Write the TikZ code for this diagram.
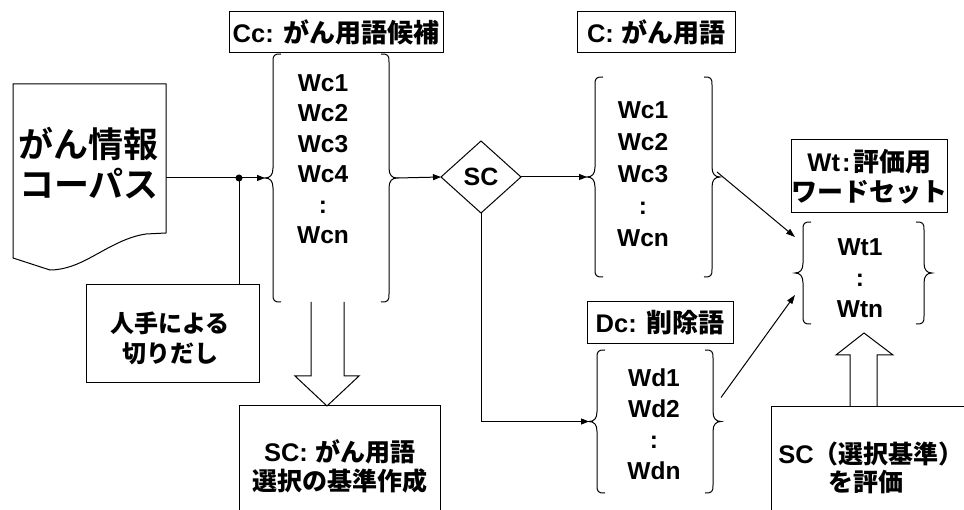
\documentclass[tikz,border=0pt]{standalone}
\usepackage{fontspec}
\setmainfont{Liberation Sans}
\newfontfamily\jpf{Noto Sans CJK JP Bold}
\usetikzlibrary{arrows.meta,shapes.geometric,calc}
\newcommand\jtext[2][26]{{\jpf\fontsize{#1}{31}\selectfont #2}}
\newcommand\bracepair[1]{%
\draw[line] ($(#1.north west)+(8,0)$) .. controls ($(#1.north west)+(1,0)$) and ($(#1.north west)+(0,1)$) .. ($(#1.north west)+(0,8)$)
 -- ($(#1.west)+(0,-10)$) .. controls ($(#1.west)+(0,-3)$) and ($(#1.west)+(-3,0)$) .. ($(#1.west)+(-8,0)$)
 .. controls ($(#1.west)+(-3,0)$) and ($(#1.west)+(0,3)$) .. ($(#1.west)+(0,10)$)
 -- ($(#1.south west)+(0,-8)$) .. controls ($(#1.south west)+(0,-1)$) and ($(#1.south west)+(1,0)$) .. ($(#1.south west)+(8,0)$);
\draw[line] ($(#1.north east)+(-8,0)$) .. controls ($(#1.north east)+(-1,0)$) and ($(#1.north east)+(0,1)$) .. ($(#1.north east)+(0,8)$)
 -- ($(#1.east)+(0,-10)$) .. controls ($(#1.east)+(0,-3)$) and ($(#1.east)+(3,0)$) .. ($(#1.east)+(8,0)$)
 .. controls ($(#1.east)+(3,0)$) and ($(#1.east)+(0,3)$) .. ($(#1.east)+(0,10)$)
 -- ($(#1.south east)+(0,-8)$) .. controls ($(#1.south east)+(0,-1)$) and ($(#1.south east)+(-1,0)$) .. ($(#1.south east)+(-8,0)$);
\coordinate (#1-l) at ($(#1.west)+(-8,0)$);
\coordinate (#1-r) at ($(#1.east)+(8,0)$);
}
\tikzset{
 line/.style={line width=1pt, draw=black},
 arr/.style={line, -{Triangle[length=8pt,width=6pt]}},
 lbl/.style={draw=black, line width=1pt, rectangle, inner sep=0pt, outer sep=0pt, align=center,
   font=\bfseries\fontsize{25.5}{30}\selectfont},
 holder/.style={rectangle, inner sep=0pt, outer sep=0pt, draw=none},
 words/.style={align=center, inner sep=0pt, outer sep=0pt, font=\bfseries\fontsize{24.5}{#1}\selectfont},
 words/.default=31
}
\begin{document}
\begin{tikzpicture}[x=1pt,y=-1pt]
\useasboundingbox (0,0) rectangle (964,510);
\clip (0,0) rectangle (964,510);
\fill[white] (0,0) rectangle (964,510);

% corpus document
\node[holder, minimum width=153, minimum height=149] (corpus) at (89.5,158.5) {};
\draw[line] (corpus.south east) -- (corpus.north east) -- (corpus.north west) -- ($(corpus.south west)+(0,25)$)
  -- (50,270) .. controls (56,270) and (63,269) .. (72,266)
  .. controls (95,258) and (118,238) .. (146,234) -- cycle;
\node[words, font=\fontsize{35}{40}\selectfont] (corpustext) at (89,163) {\jtext[35]{がん情報}\\\jtext[35]{コーパス}};

% label boxes
\node[lbl, minimum width=214, minimum height=41] (cclabel) at (336,32.5) {Cc: \jtext{がん用語候補}};
\node[lbl, minimum width=158, minimum height=41] (clabel) at (656,32.5) {C: \jtext{がん用語}};
\node[lbl, minimum width=146, minimum height=42] (dclabel) at (660,323) {Dc: \jtext{削除語}};
\node[lbl, minimum width=147, minimum height=73] (wtlabel) at (869.5,176.5) {Wt\kern2pt:\kern3pt\jtext{評価用}\\\jtext{ワードセット}};

% brace holders
\node[holder, minimum width=116, minimum height=248] (cc) at (331,178) {};
\node[holder, minimum width=117, minimum height=200] (c) at (653.5,177) {};
\node[holder, minimum width=116, minimum height=143] (dc) at (655,421.5) {};
\node[holder, minimum width=121, minimum height=102] (wt) at (863.5,273) {};
\bracepair{cc}
\bracepair{c}
\bracepair{dc}
\bracepair{wt}

\node[words=30.5] (cctext) at (323,159) {Wc1\\Wc2\\Wc3\\Wc4\\:\\Wcn};
\node[words=32] (ctext) at (643,174) {Wc1\\Wc2\\Wc3\\:\\Wcn};
\node[words=31] (dctext) at (654,424) {Wd1\\Wd2\\:\\Wdn};
\node[words=31] (wttext) at (860,278) {Wt1\\:\\Wtn};

% diamond
\node[draw=black, line width=1pt, diamond, minimum width=80, minimum height=72, inner sep=0pt, outer sep=0pt,
  font=\bfseries\fontsize{25}{30}\selectfont] (sc) at (481,177) {SC};

% lower boxes
\node[lbl, minimum width=173, minimum height=98] (hand) at (172.5,334) {};
\node[words=30] (handtext) at (170,338) {\jtext[24]{人手による}\\\jtext[24]{切りだし}};
\node[lbl, minimum width=201, minimum height=120, font=\bfseries\fontsize{25.5}{29}\selectfont] (scbox) at (339.5,466)
  {SC: \jtext[25]{がん用語}\\\jtext[25]{選択の基準作成}};
\node[lbl, minimum width=198, minimum height=120] (sceval) at (870,467) {};
\node[words, font=\bfseries\fontsize{25.5}{30}\selectfont] (evalrow1) at (871,454) {SC\jtext[25]{（選択基準）}};
\node[words, font=\bfseries\fontsize{25.5}{30}\selectfont] (evalrow2) at (866,482) {\jtext[25]{を評価}};

% connectors
\draw[arr] (corpus.east |- cc-l) -- (cc-l);
\coordinate (hj) at ($(hand.north east)+(-20,0)$);
\node[circle, fill=black, inner sep=0pt, minimum size=7] (dot) at (hj |- cc-l) {};
\draw[line] (hj) -- (dot.center);
\draw[arr] (cc-r) -- (sc.west);
\draw[arr] (sc.east) -- (c-l);
\draw[arr] (sc.south) -- (sc.south |- dc-l) -- (dc-l);
\draw[arr, -{Triangle[length=9pt,width=6pt]}] ($(c-r)+(-3,-5)$) -- ($(wt.west)+(-8,-36)$);
\draw[arr, -{Triangle[length=9pt,width=6pt]}] ($(dc-r)+(0,-24)$) -- ($(wt.west)+(-8,22)$);

% hollow arrows
\coordinate (dtip) at (scbox.north -| 327,0);
\draw[line] ($(dtip)+(-16,-104)$) -- ($(dtip)+(-16,-30)$) -- ($(dtip)+(-32,-30)$) -- (dtip)
  -- ($(dtip)+(32,-30)$) -- ($(dtip)+(17,-30)$) -- ($(dtip)+(17,-104)$);
\coordinate (utip) at ($(wt.south)+(0.5,9)$);
\draw[line] ($(utip)+(-14,74)$) -- ($(utip)+(-14,22)$) -- ($(utip)+(-28,22)$) -- (utip)
  -- ($(utip)+(29,22)$) -- ($(utip)+(13,22)$) -- ($(utip)+(13,74)$);
\end{tikzpicture}
\end{document}
